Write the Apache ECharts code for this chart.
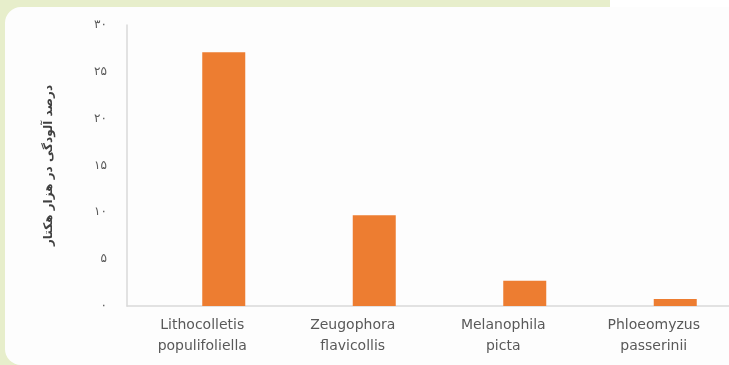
<!DOCTYPE html>
<html>
<head>
<meta charset="utf-8">
<script src="https://cdn.jsdelivr.net/npm/echarts@6/dist/echarts.min.js"></script>
<style>
  html, body { margin: 0; padding: 0; background: #ffffff; }
  #wrap { position: relative; width: 729px; height: 365px; overflow: hidden; }
  .frame { position: absolute; left: 0; top: 0; width: 610px; height: 365px; background: #e7eecb; }
  .paper { position: absolute; left: 5px; top: 7px; width: 724px; height: 358px; background: #fdfdfd; border-radius: 16px 0 0 16px; }
  #chart { position: absolute; left: 0; top: 0; width: 729px; height: 365px; }
</style>
</head>
<body>
<div id="wrap">
  <div class="frame"></div>
  <div class="paper"></div>
  <div id="chart"></div>
</div>
<script>
// گونه‌ها و درصد آلودگی
const species = [
  'Lithocolletis\npopulifoliella',
  'Zeugophora\nflavicollis',
  'Melanophila\npicta',
  'Phloeomyzus\npasserinii'
]
const infestation = [27.1, 9.7, 2.7, 0.75]
// سری خالی اول (در نمودار اصلی هم جای آن خالی است)
const emptySeries = [null, null, null, null]
const yTicks = [0, 5, 10, 15, 20, 25, 30]
const yTitle = 'درصد آلودگی در هزار هکتار'

const faDigits = '۰۱۲۳۴۵۶۷۸۹'
function toFa(n) {
  return String(n).replace(/\d/g, d => faDigits[d])
}

const chart = echarts.init(document.getElementById('chart'))

chart.setOption({
  animation: false,
  grid: { left: 127, top: 25, bottom: 59, width: 604 },
  xAxis: {
    type: 'category',
    data: species,
    axisLine: { lineStyle: { color: '#d9d9d9', width: 1.5 } },
    axisTick: { show: false },
    axisLabel: {
      color: '#595959',
      fontFamily: 'DejaVu Sans',
      fontSize: 14,
      lineHeight: 21,
      margin: 9
    }
  },
  yAxis: {
    type: 'value',
    min: yTicks[0],
    max: yTicks[yTicks.length - 1],
    interval: 5,
    name: yTitle,
    nameLocation: 'middle',
    nameRotate: 90,
    nameGap: 72,
    nameTextStyle: {
      color: '#404040',
      fontFamily: 'DejaVu Sans',
      fontSize: 12,
      fontWeight: 'bold'
    },
    axisLine: { show: true, lineStyle: { color: '#d9d9d9', width: 1.5 } },
    axisTick: { show: false },
    splitLine: { show: false },
    axisLabel: {
      color: '#595959',
      fontFamily: 'DejaVu Sans',
      fontSize: 12,
      margin: 20,
      formatter: v => toFa(v)
    }
  },
  series: [
    {
      type: 'bar',
      data: emptySeries,
      barWidth: 43,
      barGap: '0%'
    },
    {
      type: 'bar',
      data: infestation,
      barWidth: 43,
      barGap: '0%',
      itemStyle: { color: '#ed7d31' }
    }
  ]
})
</script>
</body>
</html>
